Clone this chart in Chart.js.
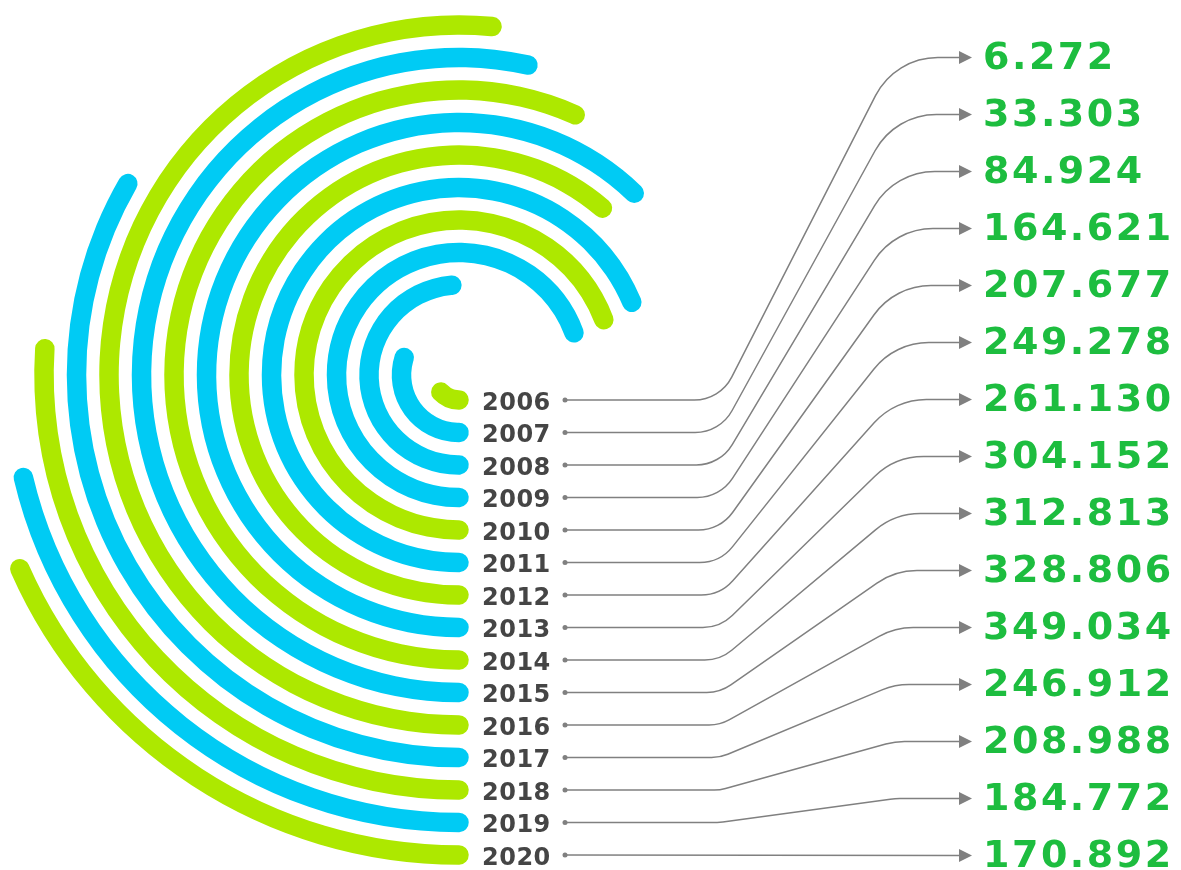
<!DOCTYPE html>
<html><head><meta charset="utf-8">
<script src="https://cdn.jsdelivr.net/npm/chart.js@4.4.1/dist/chart.umd.min.js"></script>
<style>html,body{margin:0;padding:0;background:#fff;overflow:hidden}canvas{display:block}</style>
</head><body>
<canvas id="c" width="1181" height="870"></canvas>
<script>
// ---- data ----
const years = ['2006','2007','2008','2009','2010','2011','2012','2013','2014','2015','2016','2017','2018','2019','2020'];
const values = [6.272, 33.303, 84.924, 164.621, 207.677, 249.278, 261.130, 304.152, 312.813, 328.806, 349.034, 246.912, 208.988, 184.772, 170.892];
const ringColorKeys = ['g','b','b','b','g','b','g','b','g','b','g','b','g','b','g'];

// ---- style / layout ----
const COLORS = { g: '#ade800', b: '#00cbf4' };
const CX = 459, CY = 375;
const RING_T = 19.5, RING_GAP = 13, R_FIRST = 25;   // centre-line radius of innermost ring
const PX_PER_UNIT = 3.245;                           // arc length per value unit
const W = 1181, H = 870;

const nR = years.length;
const outerR = R_FIRST + (nR - 1) * (RING_T + RING_GAP) + RING_T / 2;
const innerR = R_FIRST - RING_T / 2;

// datasets: outermost (last year) first, with transparent spacer rings between
const datasets = [];
for (let k = nR - 1; k >= 0; k--) {
  const r = R_FIRST + k * (RING_T + RING_GAP);
  const capDeg = (RING_T / 2) / r * 180 / Math.PI;
  const sweepDeg = (values[k] * PX_PER_UNIT) / r * 180 / Math.PI;
  datasets.push({
    label: years[k],
    data: [values[k]],
    backgroundColor: COLORS[ringColorKeys[k]],
    borderWidth: 0,
    borderRadius: RING_T / 2,
    weight: RING_T,
    rotation: 180 - capDeg,
    circumference: sweepDeg + 2 * capDeg,
    clip: false,
    _yearIndex: k
  });
  if (k > 0) {
    datasets.push({
      label: '',
      data: [1],
      backgroundColor: 'rgba(0,0,0,0)',
      borderWidth: 0,
      weight: RING_GAP,
      rotation: 0,
      circumference: 360,
      clip: false
    });
  }
}

const VAL_X = 983, VAL_TOP = 57.5, VAL_STEP = 57;
const DOT_X = 565, BEND1_X = 720, BEND2_X = 895, ARROW_X = 972;

const labelPlugin = {
  id: 'labels',
  afterDatasetsDraw(chart) {
    const ctx = chart.ctx;
    ctx.save();
    chart.data.datasets.forEach((ds, di) => {
      if (ds._yearIndex === undefined) return;
      const i = ds._yearIndex;
      const el = chart.getDatasetMeta(di).data[0];
      const ys = el.y + (el.innerRadius + el.outerRadius) / 2;
      const yt = VAL_TOP + VAL_STEP * i;

      // year label
      ctx.fillStyle = '#454545';
      ctx.font = 'bold 24px "DejaVu Sans"';
      ctx.letterSpacing = '0.5px';
      ctx.textAlign = 'left';
      ctx.textBaseline = 'alphabetic';
      ctx.fillText(years[i], 482, ys + 9.5);

      // connector
      ctx.strokeStyle = '#808080';
      ctx.fillStyle = '#808080';
      ctx.lineWidth = 1.5;
      ctx.beginPath();
      ctx.arc(DOT_X, ys, 2.5, 0, Math.PI * 2);
      ctx.fill();
      ctx.beginPath();
      ctx.moveTo(DOT_X, ys);
      if (Math.abs(yt - ys) < 4) {
        ctx.lineTo(ARROW_X - 12, yt);
      } else {
        ctx.arcTo(BEND1_X, ys, BEND2_X, yt, 42);
        ctx.arcTo(BEND2_X, yt, ARROW_X - 12, yt, 70);
        ctx.lineTo(ARROW_X - 12, yt);
      }
      ctx.stroke();
      ctx.beginPath();
      ctx.moveTo(ARROW_X, yt);
      ctx.lineTo(ARROW_X - 13, yt - 6.5);
      ctx.lineTo(ARROW_X - 13, yt + 6.5);
      ctx.closePath();
      ctx.fill();

      // value label
      ctx.fillStyle = '#1dbd3f';
      ctx.font = 'bold 38px "DejaVu Sans"';
      ctx.letterSpacing = '2.5px';
      ctx.fillText(values[i].toFixed(3), VAL_X, yt + 11);
    });
    ctx.restore();
  }
};

new Chart(document.getElementById('c'), {
  type: 'doughnut',
  data: { labels: [''], datasets },
  options: {
    responsive: false,
    animation: false,
    radius: outerR,
    cutout: (innerR / outerR * 100) + '%',
    layout: { padding: { left: 0, top: 0, right: W - 2 * CX, bottom: H - 2 * CY } },
    plugins: { legend: { display: false }, tooltip: { enabled: false } },
    events: []
  },
  plugins: [labelPlugin]
});
</script>
</body></html>
